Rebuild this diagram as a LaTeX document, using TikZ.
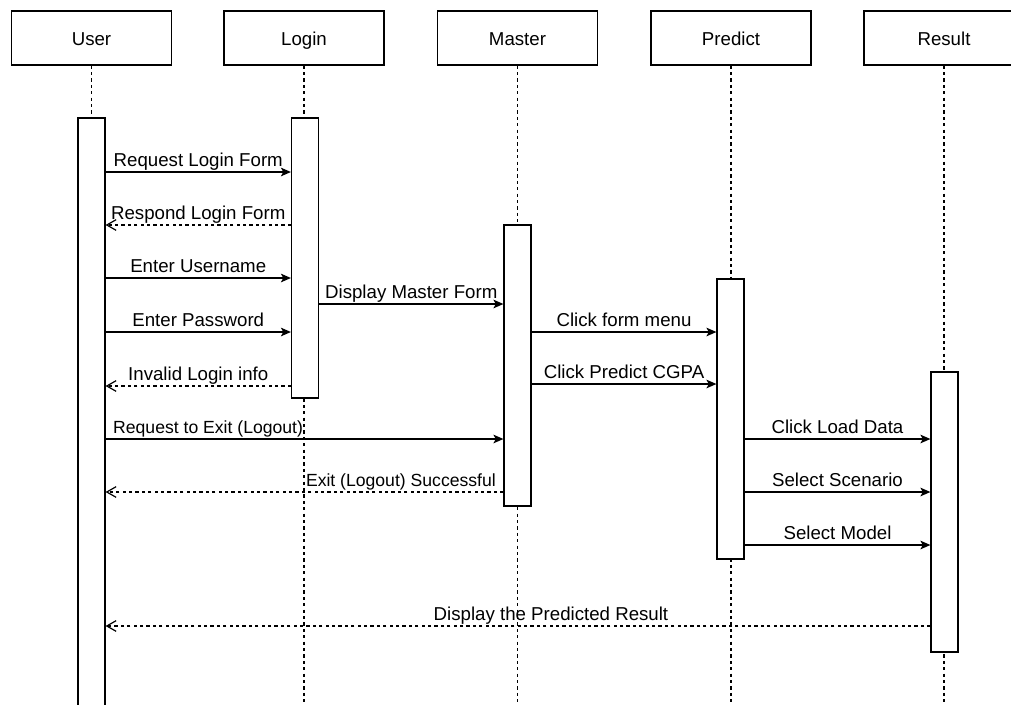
\documentclass[tikz,border=0pt]{standalone}
\usepackage{fontspec}
\setmainfont{Liberation Sans}
\usetikzlibrary{arrows.meta}
\begin{document}
\begin{tikzpicture}[x=0.75pt,y=-0.75pt,
  hdr/.style={draw, line width=0.9pt, minimum width=120pt, minimum height=40.5pt, inner sep=0pt, font=\fontsize{14}{16}\selectfont},
  hdrtxt/.style={inner sep=0pt, text height=0.72em, text depth=0pt, font=\fontsize{14}{16}\selectfont},
  bar/.style={draw, fill=white, line width=0.9pt, minimum width=20.25pt, inner sep=0pt},
  life/.style={line width=0.9pt, dash pattern=on 2.4pt off 2.4pt},
  msg/.style={line width=0.9pt, -{Stealth[length=7.5pt,width=6.5pt,inset=1.8pt]}},
  ret/.style={line width=0.9pt, dash pattern=on 2.4pt off 2.4pt, -{Straight Barb[length=7pt,width=8pt]}},
  lbl/.style={anchor=base, yshift=4.5pt, font=\fontsize{14}{16}\selectfont, inner sep=0pt},
  lbls/.style={anchor=base, yshift=4.5pt, font=\fontsize{13.2}{15}\selectfont, inner sep=0pt}]
\useasboundingbox (0,0) rectangle (1011,704);
\clip (0,0) rectangle (1011,704);
% headers
\node[hdr, label={[hdrtxt, yshift=-2.25pt]center:User}] (user) at (91.5,38) {};
\node[hdr, label={[hdrtxt, yshift=-2.25pt]center:Login}] (login) at (304,38) {};
\node[hdr, label={[hdrtxt, yshift=-2.25pt]center:Master}] (master) at (517.5,38) {};
\node[hdr, label={[hdrtxt, yshift=-2.25pt]center:Predict}] (predict) at (731,38) {};
\node[hdr, label={[hdrtxt, yshift=-2.25pt]center:Result}] (result) at (944,38) {};
\coordinate (bot) at (0,712);
% lifelines
\foreach \n in {user,login,master,predict,result}
  \draw[life] (\n.south) -- (\n.south |- bot);
% activation bars
\node[bar, minimum height=451.5pt] (uact) at (91.5,419) {};
\node[bar, minimum height=210pt] (lact) at (305,258) {};
\node[bar, minimum height=210.75pt] (mact) at (517.5,365.5) {};
\node[bar, minimum height=210pt] (pact) at (730.5,419) {};
\node[bar, minimum height=210pt] (ract) at (944.5,512) {};
% messages
\draw[msg] (uact.east |- 0,172) -- node[lbl] {Request Login Form} (lact.west |- 0,172);
\draw[ret] (lact.west |- 0,225) -- node[lbl] {Respond Login Form} (uact.east |- 0,225);
\draw[msg] (uact.east |- 0,278) -- node[lbl] {Enter Username} (lact.west |- 0,278);
\draw[msg] (uact.east |- 0,332) -- node[lbl] {Enter Password} (lact.west |- 0,332);
\draw[ret] (lact.west |- 0,386) -- node[lbl] {Invalid Login info} (uact.east |- 0,386);
\draw[msg] (lact.east |- 0,304) -- node[lbl] {Display Master Form} (mact.west |- 0,304);
\draw[msg] (mact.east |- 0,332) -- node[lbl] {Click form menu} (pact.west |- 0,332);
\draw[msg] (mact.east |- 0,384) -- node[lbl] {Click Predict CGPA} (pact.west |- 0,384);
\draw[msg] (uact.east |- 0,439) -- node[lbls, pos=0, anchor=base west, xshift=5.25pt] {Request to Exit (Logout)} (mact.west |- 0,439);
\draw[ret] (mact.west |- 0,492) -- node[lbls, pos=0, anchor=base east, xshift=-5.25pt] {Exit (Logout) Successful} (uact.east |- 0,492);
\draw[msg] (pact.east |- 0,439) -- node[lbl] {Click Load Data} (ract.west |- 0,439);
\draw[msg] (pact.east |- 0,492) -- node[lbl] {Select Scenario} (ract.west |- 0,492);
\draw[msg] (pact.east |- 0,545) -- node[lbl] {Select Model} (ract.west |- 0,545);
\draw[ret] (ract.west |- 0,626) -- node[lbl, pos=0.46] {Display the Predicted Result} (uact.east |- 0,626);
\end{tikzpicture}
\end{document}
